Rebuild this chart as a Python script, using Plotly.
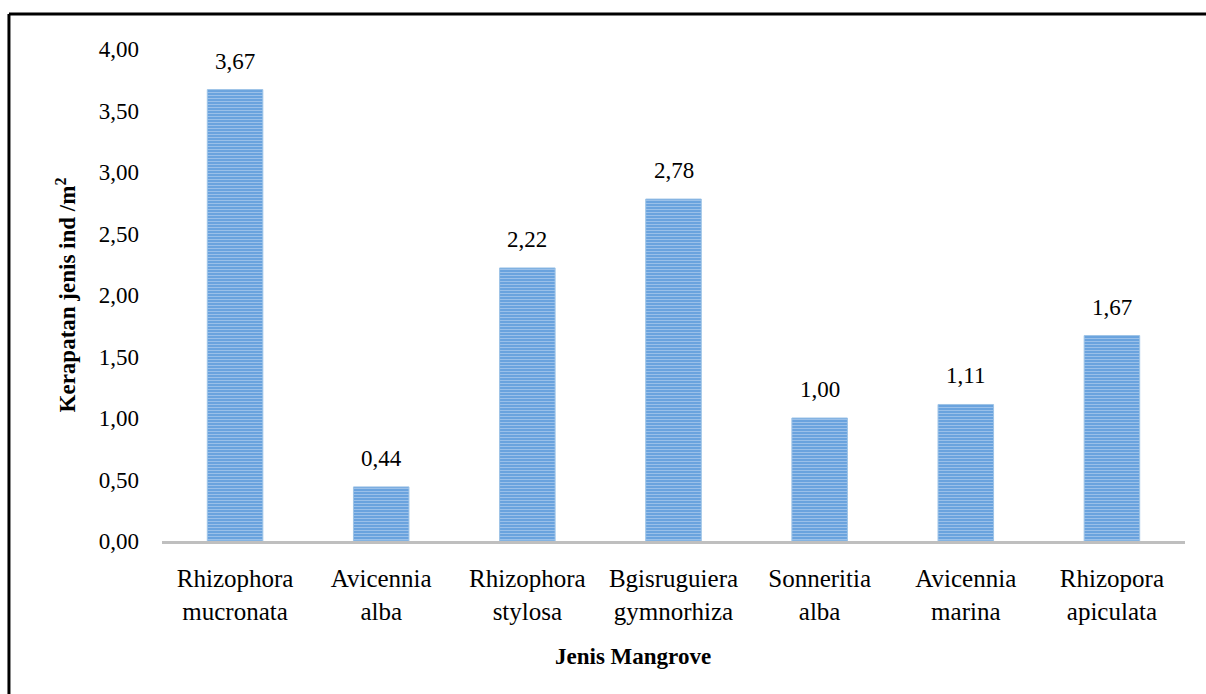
import plotly.graph_objects as go

species = [
    "Rhizophora<br>mucronata",
    "Avicennia<br>alba",
    "Rhizophora<br>stylosa",
    "Bgisruguiera<br>gymnorhiza",
    "Sonneritia<br>alba",
    "Avicennia<br>marina",
    "Rhizopora<br>apiculata",
]
density = [3.67, 0.44, 2.22, 2.78, 1.00, 1.11, 1.67]
y_ticks = [0, 0.5, 1.0, 1.5, 2.0, 2.5, 3.0, 3.5, 4.0]

FONT = "Liberation Serif, Times New Roman, serif"

fig = go.Figure(go.Bar(
    x=species,
    y=density,
    width=0.38,
    marker=dict(
        color="#6FA6DE",
        line=dict(color="#9DC3E6", width=1),
        pattern=dict(shape="-", fgcolor="#C9DEF3", bgcolor="#6AA3DE", size=3, solidity=0.35),
    ),
    hovertemplate="%{x}: %{y:.2f}<extra></extra>",
))

for name, val in zip(species, density):
    fig.add_annotation(
        x=name, y=val, text=f"{val:.2f}".replace(".", ","),
        showarrow=False, yanchor="bottom", yshift=14,
        font=dict(family=FONT, size=23, color="#000000"),
    )

fig.add_annotation(
    xref="paper", yref="paper", x=0.46, y=-0.235, yanchor="middle",
    text="<b>Jenis Mangrove</b>", showarrow=False,
    font=dict(family=FONT, size=23, color="#000000"),
)

# outer frame (top and left edges visible)
fig.add_shape(type="line", xref="paper", yref="paper",
              x0=-0.1496, x1=1.03, y0=1.0711, y1=1.0711,
              line=dict(color="#000000", width=3))
fig.add_shape(type="line", xref="paper", yref="paper",
              x0=-0.1496, x1=-0.1496, y0=1.0711, y1=-0.32,
              line=dict(color="#000000", width=3))

fig.update_layout(
    width=1206,
    height=694,
    margin=dict(l=162, r=21, t=49, b=153),
    paper_bgcolor="white",
    plot_bgcolor="white",
    separators=",.",
    showlegend=False,
    font=dict(family=FONT, size=23, color="#000000"),
    xaxis=dict(
        showgrid=False,
        showline=True, linecolor="#BFBFBF", linewidth=3,
        ticks="", ticklabelstandoff=13,
        tickfont=dict(family=FONT, size=25),
    ),
    yaxis=dict(
        range=[0, 4.0],
        tickvals=y_ticks,
        tickformat=".2f",
        showgrid=False, zeroline=False, showline=False,
        ticks="", ticklabelstandoff=22,
        tickfont=dict(family=FONT, size=23),
        title=dict(text="<b>Kerapatan jenis ind /m<sup>2</sup></b>",
                   font=dict(family=FONT, size=23), standoff=16),
    ),
)

fig.write_html("out.html", config={"displayModeBar": False},
               post_script="document.body.style.margin='0';")
